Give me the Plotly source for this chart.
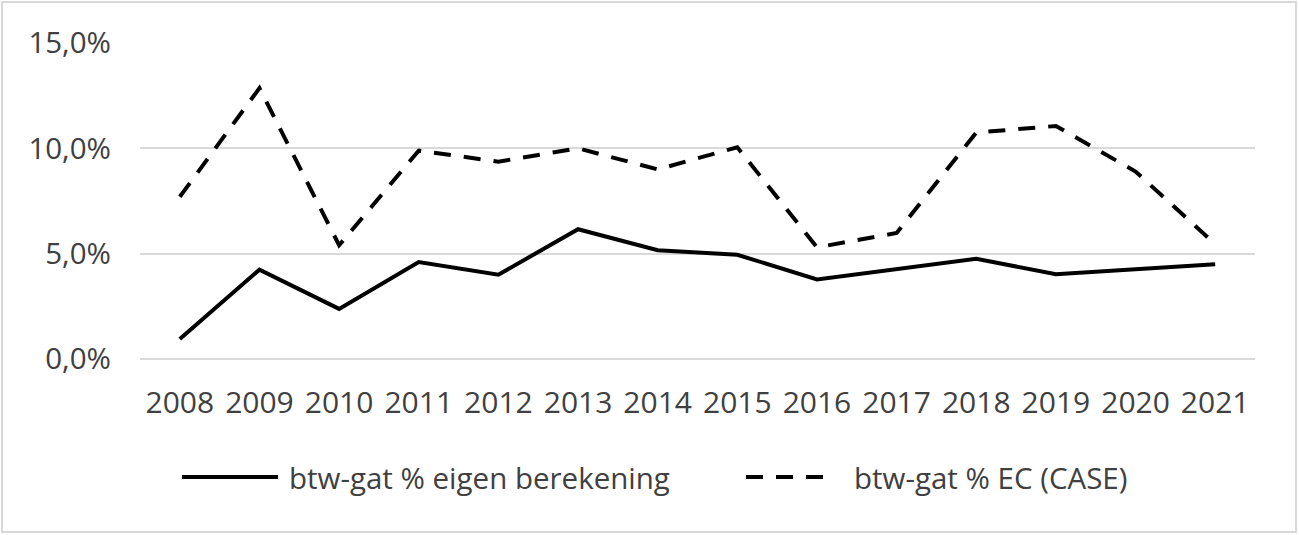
import plotly.graph_objects as go

years = ["2008", "2009", "2010", "2011", "2012", "2013", "2014",
         "2015", "2016", "2017", "2018", "2019", "2020", "2021"]
eigen = [0.95, 4.24, 2.38, 4.6, 4.0, 6.16, 5.16,
         4.95, 3.78, 4.29, 4.76, 4.02, 4.25, 4.5]
ec_case = [7.7, 12.86, 5.4, 9.89, 9.37, 10.0, 9.0,
           10.05, 5.3, 5.98, 10.75, 11.06, 8.9, 5.45]
name_eigen = "btw-gat % eigen berekening"
name_ec = "btw-gat % EC (CASE)"
y_ticks = [0, 5, 10, 15]
y_ticktext = ["0,0%", "5,0%", "10,0%", "15,0%"]

W, H = 1299, 535
L, R, T, B = 140, 44, 43, 176
pw, ph = W - L - R, H - T - B

def px_x(x):
    return (x - L) / pw

def px_y(y):
    return (H - B - y) / ph

FONT = "Open Sans"
TXT = "#404040"
GRID = "#d9d9d9"

fig = go.Figure()
fig.add_trace(go.Scatter(x=years, y=eigen, mode="lines", name=name_eigen,
                         line=dict(color="black", width=4), showlegend=False))
fig.add_trace(go.Scatter(x=years, y=ec_case, mode="lines", name=name_ec,
                         line=dict(color="black", width=4, dash="17px,13px"),
                         showlegend=False))

shapes = [
    # outer chart border
    dict(type="rect", xref="paper", yref="paper",
         x0=px_x(2), x1=px_x(1296), y0=px_y(532), y1=px_y(2),
         line=dict(color=GRID, width=2), layer="below"),
    # legend samples
    dict(type="line", xref="paper", yref="paper",
         x0=px_x(182), x1=px_x(278), y0=px_y(477), y1=px_y(477),
         line=dict(color="black", width=4)),
    dict(type="line", xref="paper", yref="paper",
         x0=px_x(746), x1=px_x(830), y0=px_y(477), y1=px_y(477),
         line=dict(color="black", width=4, dash="17px,13px")),
]
annotations = [
    dict(text=name_eigen, xref="paper", yref="paper", x=px_x(287), y=px_y(477),
         xanchor="left", yanchor="middle", showarrow=False,
         font=dict(family=FONT, size=29.5, color=TXT)),
    dict(text=name_ec, xref="paper", yref="paper", x=px_x(852), y=px_y(477),
         xanchor="left", yanchor="middle", showarrow=False,
         font=dict(family=FONT, size=29.5, color=TXT)),
]

fig.update_layout(
    width=W, height=H,
    margin=dict(l=L, r=R, t=T, b=B, pad=0),
    paper_bgcolor="white", plot_bgcolor="white",
    font=dict(family=FONT, size=29.5, color=TXT),
    shapes=shapes, annotations=annotations,
    showlegend=False,
    xaxis=dict(type="category", range=[-0.5, 13.5], showgrid=False,
               showline=False, zeroline=False, ticks="",
               ticklabelstandoff=23, tickfont=dict(size=30, color=TXT)),
    yaxis=dict(range=[0, 15], tickvals=y_ticks, ticktext=y_ticktext,
               showgrid=True, gridcolor=GRID, gridwidth=2,
               zeroline=True, zerolinecolor=GRID, zerolinewidth=2,
               showline=False, ticks="", ticklabelstandoff=28,
               tickfont=dict(size=29.5, color=TXT)),
)

fig.write_html("out.html", config={"displayModeBar": False},
               post_script="document.body.style.margin='0';")
